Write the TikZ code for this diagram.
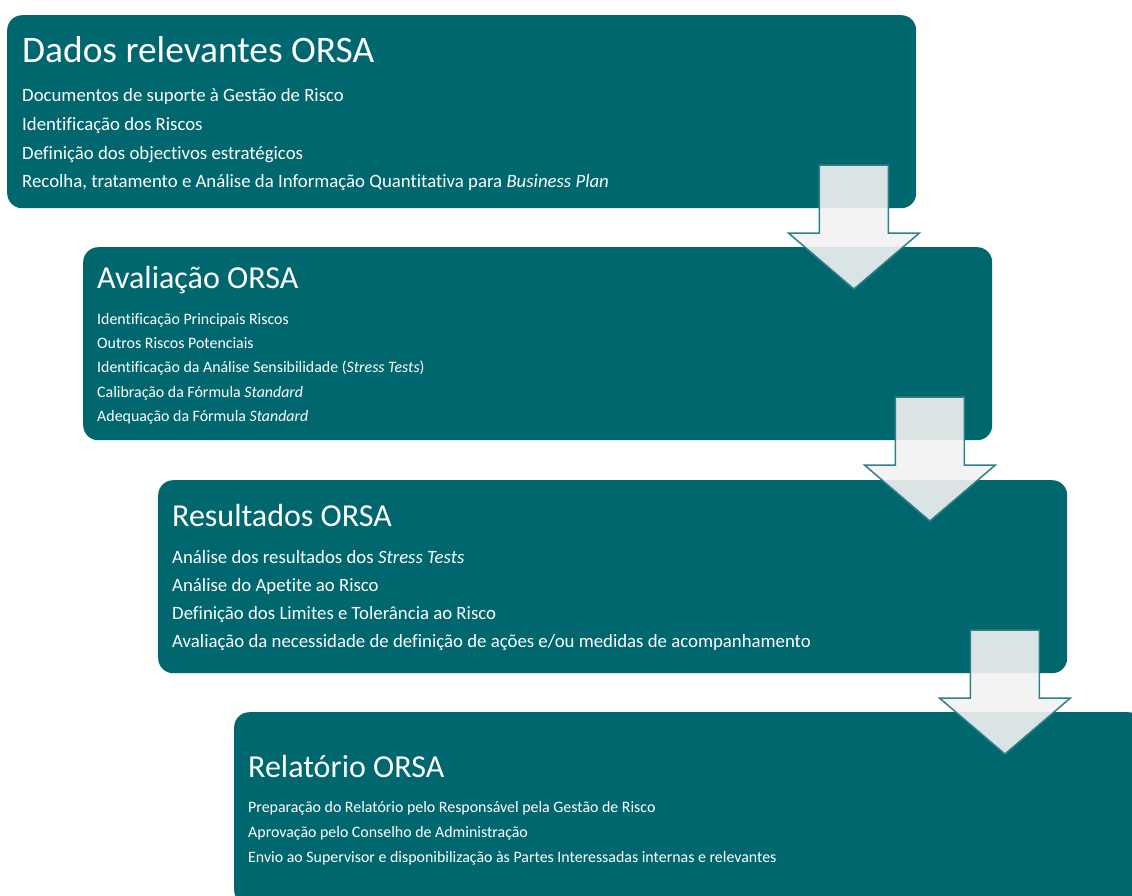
\documentclass[tikz,border=0pt]{standalone}
\usepackage{fontspec}
\setmainfont{Carlito}[Ligatures=NoCommon]
\usetikzlibrary{calc}

\definecolor{orsateal}{HTML}{00676E}
\definecolor{arrowfill}{HTML}{F2F2F2}
\definecolor{arrowline}{HTML}{2F8089}

\begin{document}
\begin{tikzpicture}[x=1pt, y=-1pt,
    stage/.style={fill=orsateal, rounded corners=15pt, minimum width=909pt, minimum height=193pt, anchor=north west, inner sep=0pt},
    bigtitle/.style={text=white, anchor=base west, inner sep=0pt, font=\fontsize{37.4}{42}\selectfont},
    title/.style={text=white, anchor=base west, inner sep=0pt, font=\fontsize{32}{36}\selectfont},
    item/.style={text=white, anchor=base west, inner sep=0pt, font=\fontsize{18.8}{22}\selectfont},
    smallitem/.style={text=white, anchor=base west, inner sep=0pt, font=\fontsize{15.9}{18}\selectfont},
    downarrow/.style={fill=arrowfill, fill opacity=0.9, draw=arrowline, line width=1.5pt, line join=miter}]
    \clip (0,0) rectangle (1132,895);

    % Stage boxes
    \node[stage] (dados) at (7,15) {};
    \node[stage] (aval) at (83,247) {};
    \node[stage] (result) at (158,480) {};
    \node[stage] (relat) at (234,712) {};

    % Dados relevantes ORSA
    \node[bigtitle] (dadosT) at ($(dados.north west)+(15,47)$) {Dados relevantes ORSA};
    \foreach \t [count=\i from 0] in {Documentos de suporte à Gestão de Risco,
                                     Identificação dos Riscos,
                                     Definição dos objectivos estratégicos,
                                     {Recolha, tratamento e Análise da Informação Quantitativa para \textit{Business Plan}}} {
        \node[item] (dados\i) at ($(dados.north west)+(15,86.7+28.67*\i)$) {\t};
    }

    % Avaliacao ORSA
    \node[title] (avalT) at ($(aval.north west)+(14,41)$) {Avaliação ORSA};
    \foreach \t [count=\i from 0] in {Identificação Principais Riscos,
                                     Outros Riscos Potenciais,
                                     Identificação da Análise Sensibilidade (\textit{Stress Tests}),
                                     Calibração da Fórmula \textit{Standard},
                                     Adequação da Fórmula \textit{Standard}} {
        \node[smallitem] (aval\i) at ($(aval.north west)+(14,77+24.4*\i)$) {\t};
    }

    % Resultados ORSA
    \node[title] (resultT) at ($(result.north west)+(14,46)$) {Resultados ORSA};
    \foreach \t [count=\i from 0] in {Análise dos resultados dos \textit{Stress Tests},
                                     Análise do Apetite ao Risco,
                                     Definição dos Limites e Tolerância ao Risco,
                                     Avaliação da necessidade de definição de ações e/ou medidas de acompanhamento} {
        \node[item] (result\i) at ($(result.north west)+(14,83+28.3*\i)$) {\t};
    }

    % Relatorio ORSA
    \node[title] (relatT) at ($(relat.north west)+(14,65)$) {Relatório ORSA};
    \foreach \t [count=\i from 0] in {Preparação do Relatório pelo Responsável pela Gestão de Risco,
                                     Aprovação pelo Conselho de Administração,
                                     Envio ao Supervisor e disponibilização às Partes Interessadas internas e relevantes} {
        \node[smallitem] (relat\i) at ($(relat.north west)+(14,100+25*\i)$) {\t};
    }

    % Down arrows between stages
    \foreach \s in {dados,aval,result} {
        \coordinate (\s A) at ($(\s.north east)+(-62.5,150)$);
        \draw[downarrow, shift={(\s A)}] (-34.5,0) -- (34.5,0) -- (34.5,68) -- (65.5,68)
            -- (0,124) -- (-65.5,68) -- (-34.5,68) -- cycle;
    }
\end{tikzpicture}
\end{document}
